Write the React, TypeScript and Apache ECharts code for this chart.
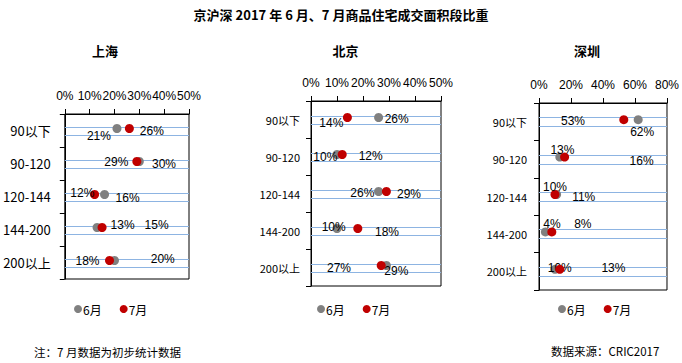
import React, { useEffect, useRef } from 'react';
import * as echarts from 'echarts';

// ---- data ----
const CATEGORIES = ['90以下', '90-120', '120-144', '144-200', '200以上'];
const SERIES_NAMES = ['6月', '7月'];
const CITY_NAMES = ['上海', '北京', '深圳'];

const SH_JUN = [21, 30, 16, 13, 20];
const SH_JUL = [26, 29, 12, 15, 18];
const BJ_JUN = [26, 10, 26, 10, 29];
const BJ_JUL = [14, 12, 29, 18, 27];
const SZ_JUN = [62, 13, 11, 4, 10];
const SZ_JUL = [53, 16, 10, 8, 13];

const AXIS_MAX = [50, 50, 80];
const AXIS_STEP = [10, 10, 20];

const TITLE = '京沪深 2017 年 6 月、7 月商品住宅成交面积段比重';
const NOTE = '注：7 月数据为初步统计数据';
const SOURCE = '数据来源：CRIC2017';

// ---- label placement (style, not data) ----
const SH_JUN_OFF = [[-18, 7.5], [24.7, 2.5], [23, 3.2], [25.5, -2.2], [48.3, -1.2]];
const SH_JUL_OFF = [[22.5, 2.5], [-20.5, 0.2], [-12.3, -1.2], [54.5, -2.2], [-22, 0.5]];
const BJ_JUN_OFF = [[18.1, 1.8], [-11.7, 2.8], [-16.3, 1.8], [-3.3, -1.2], [9.9, 5.2]];
const BJ_JUL_OFF = [[-16.1, 5.2], [28.5, 1.5], [22.6, 2.5], [29.2, 3.2], [-42.2, 2.8]];
const SZ_JUN_OFF = [[4, 12.3], [2.6, -7.1], [27.1, 2.8], [6.5, -7.6], [4.75, -1]];
const SZ_JUL_OFF = [[-50.8, 1], [77, 3.6], [0, -7.2], [31, -7.6], [53.6, -1]];

const GRIDS = [
  { left: 64, top: 114, width: 125, height: 165 },
  { left: 311, top: 101, width: 130, height: 185 },
  { left: 539, top: 103, width: 130, height: 187 },
];
const Y_LABEL_SIZE = [13, 11, 11];
const Y_LABEL_MARGIN = [14, 11, 12];
const CITY_TITLE_X = [105, 345.5, 587];
const LEGEND_LEFT = [69, 312, 553];

const GRAY = '#808080';
const RED = '#C00000';
const GUIDE = '#8DB4E2';
const FONT = '"Liberation Sans", Arial, "Noto Sans CJK SC", sans-serif';
const CJK_FONT = '"Noto Sans CJK SC", "Liberation Sans", sans-serif';

const App: React.FC = () => {
  const ref = useRef<HTMLDivElement>(null);

  useEffect(() => {
    if (!ref.current) return;
    const chart = echarts.init(ref.current, undefined, { renderer: 'svg' });

    const values = [
      [SH_JUN, SH_JUL],
      [BJ_JUN, BJ_JUL],
      [SZ_JUN, SZ_JUL],
    ];
    const offsets = [
      [SH_JUN_OFF, SH_JUL_OFF],
      [BJ_JUN_OFF, BJ_JUL_OFF],
      [SZ_JUN_OFF, SZ_JUL_OFF],
    ];
    const colors = [GRAY, RED];

    const series: any[] = [];
    values.forEach((pair, gi) => {
      const half = gi === 2 ? 4.5 : 4;
      series.push({
        type: 'custom',
        xAxisIndex: gi,
        yAxisIndex: gi,
        silent: true,
        z: 1,
        data: CATEGORIES.map((c) => [AXIS_MAX[gi], c]),
        encode: { x: 0, y: 1 },
        renderItem: (params: any, api: any) => {
          const idx = api.value(1);
          const a = api.coord([0, idx]);
          const b = api.coord([api.value(0), idx]);
          const yTop = Math.round(a[1] - half) + 0.5;
          const yBot = Math.round(a[1] + half) + 0.5;
          return {
            type: 'group',
            children: [
              { type: 'line', shape: { x1: a[0], y1: yTop, x2: b[0], y2: yTop }, style: { stroke: GUIDE, lineWidth: 1 } },
              { type: 'line', shape: { x1: a[0], y1: yBot, x2: b[0], y2: yBot }, style: { stroke: GUIDE, lineWidth: 1 } },
            ],
          };
        },
      });
      pair.forEach((vals, si) => {
        series.push({
          type: 'scatter',
          name: SERIES_NAMES[si],
          xAxisIndex: gi,
          yAxisIndex: gi,
          z: 2 + si,
          symbol: 'circle',
          symbolSize: 9,
          symbolOffset: [0, -2],
          itemStyle: { color: colors[si], opacity: 1 },
          label: {
            show: true,
            position: 'inside',
            formatter: (p: any) => p.value[0] + '%',
            color: '#000',
            fontSize: 12,
            fontFamily: FONT,
          },
          data: vals.map((v, i) => ({
            value: [v, CATEGORIES[i]],
            label: { offset: offsets[gi][si][i] },
          })),
        });
      });
    });

    const option: any = {
      animation: false,
      backgroundColor: '#fff',
      textStyle: { fontFamily: FONT },
      grid: GRIDS.map((g) => ({
        ...g,
        show: true,
        borderColor: '#000',
        borderWidth: 1,
        backgroundColor: 'transparent',
        containLabel: false,
      })),
      xAxis: GRIDS.map((g, gi) => ({
        type: 'value',
        gridIndex: gi,
        position: 'top',
        min: 0,
        max: AXIS_MAX[gi],
        interval: AXIS_STEP[gi],
        splitLine: { show: false },
        axisLine: { show: true, lineStyle: { color: '#000', width: 1 } },
        axisTick: { show: true, length: 5, inside: false, lineStyle: { color: '#000' } },
        axisLabel: {
          formatter: '{value}%',
          color: '#000',
          fontSize: 12,
          fontFamily: FONT,
          margin: 12,
        },
      })),
      yAxis: GRIDS.map((g, gi) => ({
        type: 'category',
        gridIndex: gi,
        inverse: true,
        data: CATEGORIES,
        axisLine: { show: true, lineStyle: { color: '#000', width: 1 } },
        axisTick: { show: true, length: 5, lineStyle: { color: '#000' } },
        splitLine: { show: false },
        axisLabel: {
          color: '#000',
          fontSize: Y_LABEL_SIZE[gi],
          fontFamily: CJK_FONT,
          margin: Y_LABEL_MARGIN[gi],
        },
      })),
      legend: LEGEND_LEFT.map((l) => ({
        left: l,
        top: 298,
        orient: 'horizontal',
        data: SERIES_NAMES,
        icon: 'circle',
        itemWidth: 8,
        itemHeight: 8,
        itemGap: 18,
        selectedMode: false,
        textStyle: { color: '#000', fontSize: 12, fontFamily: CJK_FONT, padding: [0, 0, 0, -4] },
      })),
      graphic: [
        {
          type: 'text',
          x: 341,
          y: 14,
          style: {
            text: TITLE,
            fill: '#000',
            font: 'bold 13px ' + CJK_FONT,
            align: 'center',
            verticalAlign: 'middle',
            textAlign: 'center',
            textVerticalAlign: 'middle',
          },
        },
        ...CITY_NAMES.map((name, i) => ({
          type: 'text',
          x: CITY_TITLE_X[i],
          y: 50,
          style: {
            text: name,
            fill: '#000',
            font: 'bold 13px ' + CJK_FONT,
            align: 'center',
            verticalAlign: 'middle',
            textAlign: 'center',
            textVerticalAlign: 'middle',
          },
        })),
        {
          type: 'text',
          x: 34,
          y: 352,
          style: {
            text: NOTE,
            fill: '#000',
            font: '11.5px ' + CJK_FONT,
            align: 'left',
            verticalAlign: 'middle',
            textAlign: 'left',
            textVerticalAlign: 'middle',
          },
        },
        {
          type: 'text',
          x: 551,
          y: 351,
          style: {
            text: SOURCE,
            fill: '#000',
            font: '11.5px ' + CJK_FONT,
            align: 'left',
            verticalAlign: 'middle',
            textAlign: 'left',
            textVerticalAlign: 'middle',
          },
        },
      ],
      series,
    };

    chart.setOption(option);
    return () => {
      chart.dispose();
    };
  }, []);

  return (
    <div
      ref={ref}
      style={{ position: 'fixed', left: 0, top: 0, width: 682, height: 363, background: '#fff' }}
    />
  );
};

export default App;
